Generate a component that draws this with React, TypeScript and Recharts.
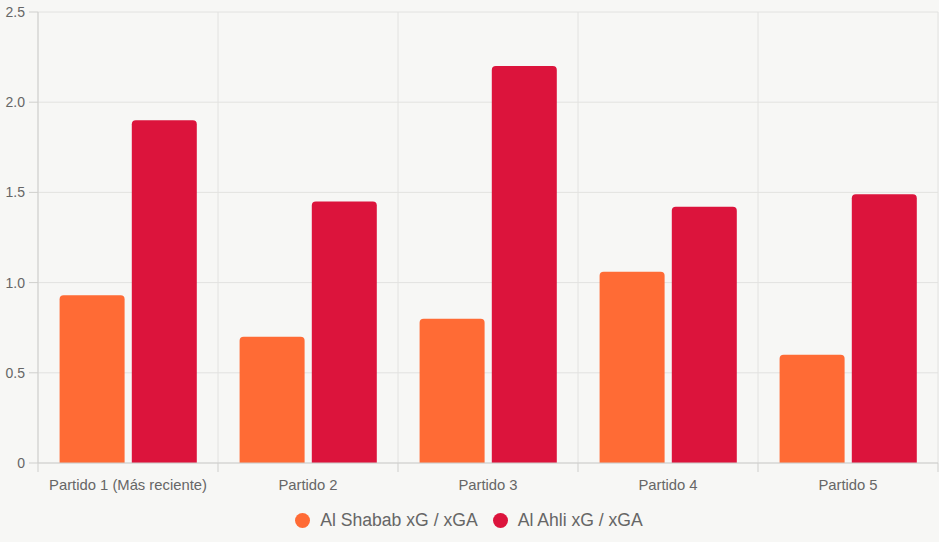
import { Bar, BarChart, CartesianGrid, Legend, XAxis, YAxis } from "recharts"

const partidos = ["Partido 1 (Más reciente)", "Partido 2", "Partido 3", "Partido 4", "Partido 5"]
const alShabab = [0.93, 0.7, 0.8, 1.06, 0.6]
const alAhli = [1.9, 1.45, 2.2, 1.42, 1.49]
const yTicks = [0, 0.5, 1, 1.5, 2, 2.5]

const series = [
  { key: "alShabab", name: "Al Shabab xG / xGA", color: "#FF6B35" },
  { key: "alAhli", name: "Al Ahli xG / xGA", color: "#DC143C" },
]

const data = partidos.map((partido, i) => ({
  partido,
  alShabab: alShabab[i],
  alAhli: alAhli[i],
}))

const FONT = "'Liberation Sans', Arial, Helvetica, sans-serif"
const GRID = "#e2e2e0"
const AXIS = "#cfcfcd"

// category label plus the small tick that hangs at each band boundary
const CategoryTick = (props: any) => {
  const { x, y, payload, index, visibleTicksCount } = props
  const band = 900 / partidos.length
  const top = y - 8
  return (
    <g>
      <line x1={x - band / 2} x2={x - band / 2} y1={top} y2={top + 9} stroke={AXIS} />
      {index === visibleTicksCount - 1 && (
        <line x1={x + band / 2} x2={x + band / 2} y1={top} y2={top + 9} stroke={AXIS} />
      )}
      <text x={x} y={top + 27} textAnchor="middle" fill="#666" fontSize={14.8} fontFamily={FONT}>
        {payload.value}
      </text>
    </g>
  )
}

const LegendContent = () => (
  <div
    style={{
      height: 34,
      display: "flex",
      justifyContent: "center",
      alignItems: "flex-start",
      gap: 15,
      fontFamily: FONT,
      fontSize: 17.6,
      color: "#666",
      lineHeight: "24px",
    }}
  >
    {series.map((s) => (
      <div key={s.key} style={{ display: "flex", alignItems: "center", gap: 10 }}>
        <span
          style={{ width: 15, height: 15, borderRadius: "50%", background: s.color, display: "inline-block" }}
        />
        <span>{s.name}</span>
      </div>
    ))}
  </div>
)

export default function App() {
  return (
    <div style={{ position: "fixed", left: 0, top: 0, width: 939, height: 542, background: "#f7f7f5" }}>
      <BarChart
        width={939}
        height={542}
        data={data}
        margin={{ top: 12, right: 1, bottom: 0, left: 0 }}
        barCategoryGap={21.6}
        barGap={7.2}
      >
        <CartesianGrid
          stroke={GRID}
          verticalCoordinatesGenerator={({ offset }: any) =>
            partidos.map((_, i) => offset.left + (i * offset.width) / partidos.length).concat(offset.left + offset.width)
          }
        />
        <XAxis
          dataKey="partido"
          height={45}
          tickLine={false}
          axisLine={{ stroke: AXIS }}
          tick={<CategoryTick />}
          interval={0}
        />
        <YAxis
          width={38}
          domain={[0, 2.5]}
          ticks={yTicks}
          tickSize={9}
          tickMargin={4}
          axisLine={{ stroke: AXIS }}
          tickLine={{ stroke: AXIS }}
          tick={{ fill: "#666", fontSize: 14, fontFamily: FONT }}
          tickFormatter={(v: number) => (v === 0 ? "0" : v.toFixed(1))}
        />
        <Legend verticalAlign="bottom" content={<LegendContent />} />
        {series.map((s) => (
          <Bar key={s.key} dataKey={s.key} name={s.name} fill={s.color} radius={[4, 4, 0, 0]} isAnimationActive={false} />
        ))}
      </BarChart>
    </div>
  )
}
